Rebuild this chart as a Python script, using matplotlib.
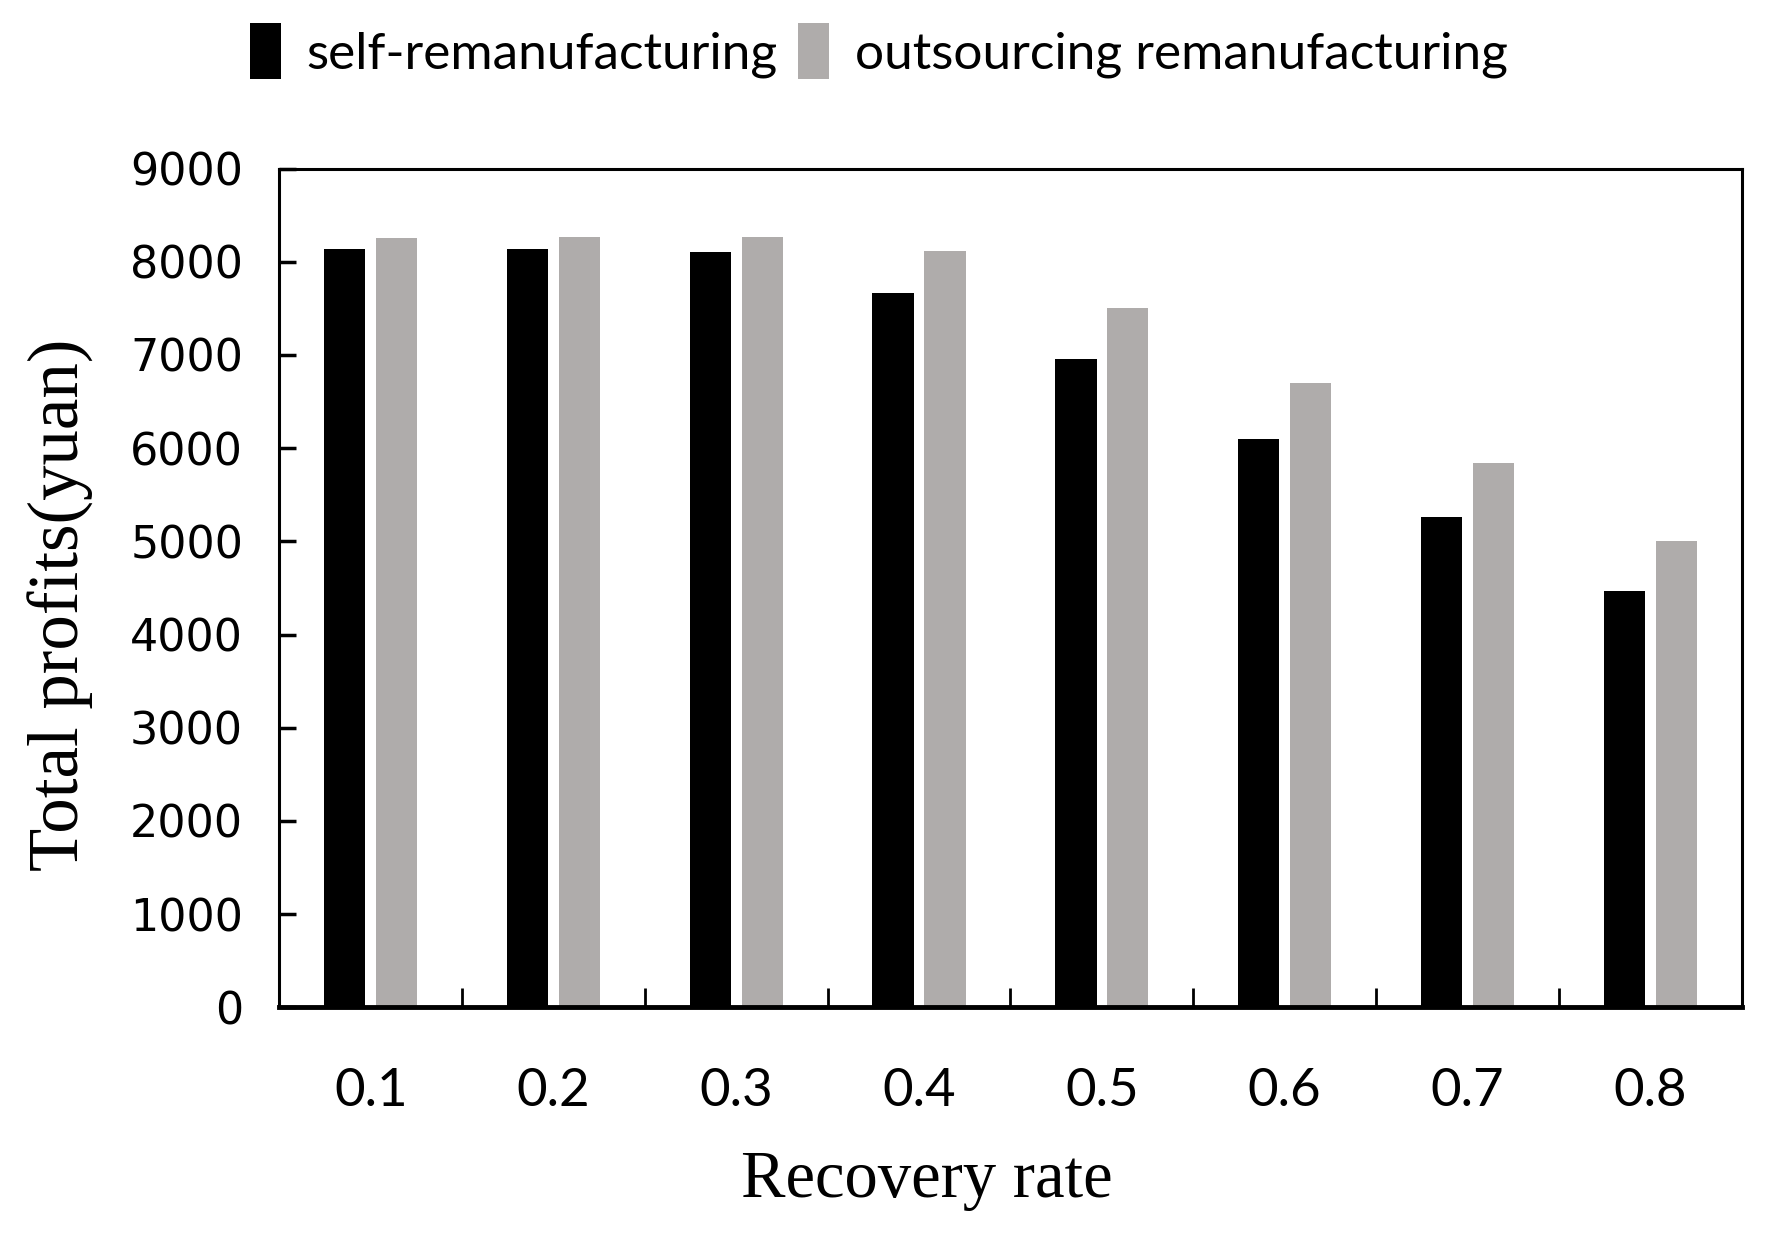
import numpy as np
import matplotlib.pyplot as plt

rates = ['0.1', '0.2', '0.3', '0.4', '0.5', '0.6', '0.7', '0.8']
self_reman = [8140, 8140, 8100, 7660, 6960, 6100, 5260, 4470]
outsourcing = [8250, 8260, 8260, 8110, 7500, 6700, 5840, 5000]
series_names = ['self-remanufacturing', 'outsourcing remanufacturing']

fig = plt.figure(figsize=(17.79, 12.39), dpi=100)
ax = fig.add_axes([0.157, 0.187, 0.822, 0.677])

x = np.arange(len(rates))
w = 0.226
off = 0.142
ax.bar(x - off, self_reman, w, color='black', label=series_names[0])
ax.bar(x + off, outsourcing, w, color='#afacab', label=series_names[1])

ax.set_xlim(-0.5, len(rates) - 0.5)
ax.set_ylim(0, 9000)
ax.set_yticks(np.arange(0, 9001, 1000))
ax.set_xticks(x)
ax.set_xticklabels(rates, fontsize=38, family='Lato')
for lab in ax.get_yticklabels():
    lab.set_fontsize(32)
    lab.set_family('DejaVu Sans')

# x ticks sit between the groups
ax.set_xticks(np.arange(0.5, len(rates) - 1, 1), minor=True)
ax.tick_params(axis='x', which='major', length=0, pad=44)
ax.tick_params(axis='x', which='minor', direction='in', length=14, width=2)
ax.tick_params(axis='y', direction='in', length=12, width=2.5, pad=26)

for s in ['left', 'right', 'top']:
    ax.spines[s].set_linewidth(2.2)
ax.spines['bottom'].set_linewidth(3.5)

ax.set_ylabel('Total profits(yuan)', fontsize=51, family='Liberation Serif')
ax.yaxis.set_label_coords(-0.127, 0.48)
ax.set_xlabel('Recovery rate', fontsize=48, family='Liberation Serif')
ax.xaxis.set_label_coords(0.443, -0.17)

fig.legend(loc='center', bbox_to_anchor=(0.494, 0.959), ncol=2, frameon=False,
           prop={'family': 'Lato', 'size': 37}, handlelength=0.6, handleheight=1.3,
           handletextpad=0.5, columnspacing=0.4)

fig.savefig('out.png', dpi=100)
